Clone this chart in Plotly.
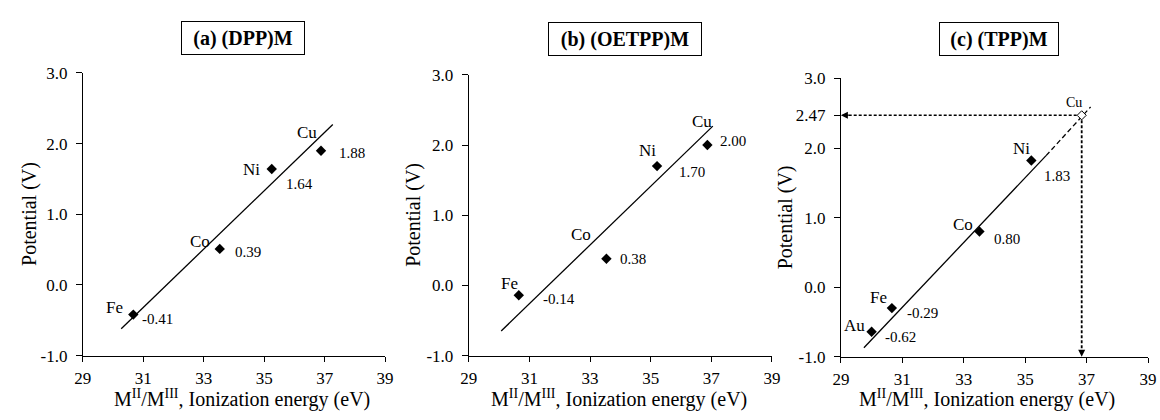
import plotly.graph_objects as go

# ---------------- data ----------------
x_ticks = [29, 31, 33, 35, 37, 39]
x_tick_labels = ["29", "31", "33", "35", "37", "39"]
y_ticks = [-1.0, 0.0, 1.0, 2.0, 3.0]
y_tick_labels = ["-1.0", "0.0", "1.0", "2.0", "3.0"]
y_ticks_c = [-1.0, 0.0, 1.0, 2.0, 2.47, 3.0]
y_tick_labels_c = ["-1.0", "0.0", "1.0", "2.0", "2.47", "3.0"]

titles = ["(a) (DPP)M", "(b) (OETPP)M", "(c) (TPP)M"]

metals_a = ["Fe", "Co", "Ni", "Cu"]
energy_a = [30.67, 33.53, 35.25, 36.88]
potential_a = [-0.42, 0.51, 1.64, 1.90]
labels_a = ["-0.41", "0.39", "1.64", "1.88"]
fit_a_x = [30.27, 37.27]
fit_a_y = [-0.62, 2.27]

metals_b = ["Fe", "Co", "Ni", "Cu"]
energy_b = [30.65, 33.54, 35.21, 36.87]
potential_b = [-0.14, 0.38, 1.70, 2.00]
labels_b = ["-0.14", "0.38", "1.70", "2.00"]
fit_b_x = [30.07, 37.05]
fit_b_y = [-0.65, 2.27]

metals_c = ["Au", "Fe", "Co", "Ni"]
energy_c = [30.00, 30.66, 33.51, 35.20]
potential_c = [-0.64, -0.30, 0.80, 1.82]
labels_c = ["-0.62", "-0.29", "0.80", "1.83"]
fit_c_x = [29.75, 35.68]
fit_c_y = [-0.87, 1.89]
extrap_c_x = [35.68, 37.13]
extrap_c_y = [1.89, 2.59]
cu_c_name = "Cu"
cu_c_energy = 36.84
cu_c_potential = 2.47

# ---------------- style ----------------
SERIF = "Liberation Serif"
W, H = 1160, 420

# plot-area pixel boxes: (left, right, top, bottom)
boxes = [(75, 382, 67, 363), (467, 775, 69, 363), (845, 1157, 72.7, 364.3)]
title_centres = [(238, 30), (626, 31), (1006, 31.5)]
title_widths = [116, 146, 112]
ytitle_x = [21, 411, 789]
xtitle_x = [237, 620, 993]

# label offsets in screen px (dx, dy down-positive)
name_off = [
    [(-19, -7), (-20, -7), (-20, 0), (-14, -18)],
    [(-9, -12), (-25, -24), (-10, -16), (-5, -24)],
    [(-17, -6), (-13, -11), (-16, -7), (-10, -12)],
]
val_off = [
    [(7, 4), (13, 3), (12, 15), (16, 2)],
    [(22, 4), (12, 0), (20, 6), (11, -4)],
    [(11, 5), (13, 5), (13, 7), (11, 15)],
]

fig = go.Figure()
layout = dict(
    width=W, height=H, margin=dict(l=0, r=0, t=0, b=0),
    paper_bgcolor="white", plot_bgcolor="white", showlegend=False,
    font=dict(family=SERIF, color="black"),
)

panels = [
    (energy_a, potential_a, metals_a, labels_a, fit_a_x, fit_a_y),
    (energy_b, potential_b, metals_b, labels_b, fit_b_x, fit_b_y),
    (energy_c, potential_c, metals_c, labels_c, fit_c_x, fit_c_y),
]

annotations = []
for i, (ex, py, names, labs, fx, fy) in enumerate(panels):
    n = "" if i == 0 else str(i + 1)
    xa, ya = "x" + n, "y" + n
    l, r, t, b = boxes[i]
    layout["xaxis" + n] = dict(
        domain=[l / W, r / W], anchor=ya, range=[29, 39],
        tickvals=x_ticks, ticktext=x_tick_labels,
        showline=True, linecolor="black", linewidth=1, mirror=False,
        ticks="outside", ticklen=5, tickwidth=1, tickcolor="black",
        showgrid=False, zeroline=False, fixedrange=True,
        ticklabelstandoff=2,
        tickfont=dict(family=SERIF, size=17, color="black"),
    )
    yt = y_ticks_c if i == 2 else y_ticks
    ytl = y_tick_labels_c if i == 2 else y_tick_labels
    layout["yaxis" + n] = dict(
        domain=[1 - b / H, 1 - t / H], anchor=xa, range=[-1, 3],
        tickvals=yt, ticktext=ytl,
        showline=True, linecolor="black", linewidth=1,
        ticks="outside", ticklen=6, tickwidth=1, tickcolor="black",
        showgrid=False, zeroline=False, fixedrange=True,
        ticklabelstandoff=5,
        tickfont=dict(family=SERIF, size=17, color="black"),
    )
    fig.add_trace(go.Scatter(x=fx, y=fy, mode="lines", xaxis=xa, yaxis=ya,
                             line=dict(color="black", width=1.3), hoverinfo="skip"))
    if i == 2:
        fig.add_trace(go.Scatter(x=extrap_c_x, y=extrap_c_y, mode="lines", xaxis=xa, yaxis=ya,
                                 line=dict(color="black", width=1.3, dash="5px,3px"), hoverinfo="skip"))
        fig.add_trace(go.Scatter(x=[cu_c_energy, 29.25], y=[cu_c_potential, cu_c_potential],
                                 mode="lines", xaxis=xa, yaxis=ya,
                                 line=dict(color="black", width=1.6, dash="3px,2px"), hoverinfo="skip"))
        fig.add_trace(go.Scatter(x=[cu_c_energy, cu_c_energy], y=[cu_c_potential, -0.9],
                                 mode="lines", xaxis=xa, yaxis=ya,
                                 line=dict(color="black", width=1.8, dash="3px,2px"), hoverinfo="skip"))
        annotations.append(dict(x=29, y=cu_c_potential, xref=xa, yref=ya, text=" ",
                                showarrow=True, ax=29.35, ay=cu_c_potential, axref=xa, ayref=ya,
                                arrowhead=2, arrowsize=1, arrowwidth=1.4, arrowcolor="black", standoff=0))
        annotations.append(dict(x=cu_c_energy, y=-1.0, xref=xa, yref=ya, text=" ",
                                showarrow=True, ax=cu_c_energy, ay=-0.85, axref=xa, ayref=ya,
                                arrowhead=2, arrowsize=1, arrowwidth=1.4, arrowcolor="black", standoff=0))
        fig.add_trace(go.Scatter(x=[cu_c_energy], y=[cu_c_potential], mode="markers", xaxis=xa, yaxis=ya,
                                 marker=dict(symbol="diamond", size=7, color="white",
                                             line=dict(width=1, color="black")), hoverinfo="skip"))
        annotations.append(dict(x=cu_c_energy, y=cu_c_potential, xref=xa, yref=ya, text=cu_c_name,
                                showarrow=False, xanchor="center", yanchor="middle",
                                xshift=-8, yshift=13, font=dict(family=SERIF, size=14, color="black")))
    fig.add_trace(go.Scatter(x=ex, y=py, mode="markers", xaxis=xa, yaxis=ya,
                             marker=dict(symbol="diamond", size=8, color="black"), hoverinfo="skip"))
    for k in range(len(ex)):
        dx, dy = name_off[i][k]
        annotations.append(dict(x=ex[k], y=py[k], xref=xa, yref=ya, text=names[k],
                                showarrow=False, xanchor="center", yanchor="middle",
                                xshift=dx, yshift=-dy, font=dict(family=SERIF, size=17, color="black")))
        dx, dy = val_off[i][k]
        annotations.append(dict(x=ex[k], y=py[k], xref=xa, yref=ya, text=labs[k],
                                showarrow=False, xanchor="left", yanchor="middle",
                                xshift=dx, yshift=-dy, font=dict(family=SERIF, size=15, color="black")))
    cx, cy = title_centres[i]
    annotations.append(dict(x=cx / W, y=1 - cy / H, xref="paper", yref="paper",
                            text="<b>" + titles[i] + "</b>", showarrow=False,
                            xanchor="center", yanchor="middle", width=title_widths[i], height=26,
                            bordercolor="black", borderwidth=1, borderpad=3, bgcolor="white",
                            font=dict(family=SERIF, size=20, color="black")))
    annotations.append(dict(x=ytitle_x[i] / W, y=1 - ((t + b) / 2) / H, xref="paper", yref="paper",
                            text="Potential (V)", textangle=-90, showarrow=False,
                            xanchor="center", yanchor="middle",
                            font=dict(family=SERIF, size=20, color="black")))
    annotations.append(dict(x=xtitle_x[i] / W, y=0, xref="paper", yref="paper",
                            text="M<sup>II</sup>/M<sup>III</sup>, Ionization energy (eV)",
                            showarrow=False, xanchor="center", yanchor="bottom", yshift=-3,
                            font=dict(family=SERIF, size=20, color="black")))

layout["annotations"] = annotations
fig.update_layout(**layout)
fig.write_html("out.html")
